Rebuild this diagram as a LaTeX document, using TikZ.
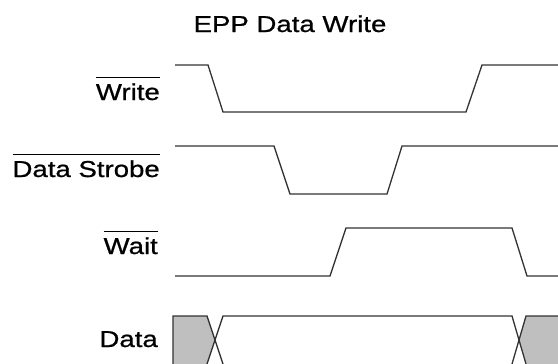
\documentclass[tikz,border=0pt]{standalone}
\usepackage{fontspec}
\setmainfont{Liberation Sans}[FakeStretch=1.2, FakeBold=0.8]
\usetikzlibrary{positioning}
\tikzset{
  sig/.style={line width=1.3bp, color=black!80},
  lbl/.style={anchor=base east, inner sep=0pt, font=\fontsize{23bp}{28bp}\selectfont},
  datafill/.style={fill=black!25}
}
\newcommand{\lowsig}[1]{\vbox{\hrule height 1.2bp\kern 5bp\hbox{#1}}}

\begin{document}
\begin{tikzpicture}[x=1bp, y=-1bp]
        \useasboundingbox (0,0) rectangle (558,363);
        \clip (0,0) rectangle (558,363);

        \node[lbl, anchor=base] (title) at (290,32) {EPP Data Write};
        \node[lbl] (write) at (160,100) {\lowsig{Write}};
        \node[lbl] (strobe) at (160,177) {\lowsig{Data Strobe}};
        \node[lbl] (wait) at (158,254) {\lowsig{Wait}};
        \node[lbl] (data) at (158,347) {Data};

        % signals
        \draw[sig] (175,65) -- (208,65) -- (223,112) -- (466,112) -- (482,65) -- (558,65);
        \draw[sig] (175,146) -- (274,146) -- (290,194) -- (387,194) -- (402,146) -- (558,146);
        \draw[sig] (175,276) -- (330,276) -- (346,228) -- (512,228) -- (527,276) -- (558,276);

        % data bus
        \fill[datafill] (173,316) -- (207,316) -- (215,340) -- (207,364) -- (173,364) -- cycle;
        \fill[datafill] (558,316) -- (526,316) -- (519,340) -- (526,364) -- (558,364) -- cycle;
        \draw[sig] (173,370) -- (173,316) -- (207,316) -- (223,364);
        \draw[sig] (207,364) -- (223,316) -- (512,316) -- (526,364);
        \draw[sig] (512,364) -- (526,316) -- (558,316);
    \end{tikzpicture}
\end{document}
